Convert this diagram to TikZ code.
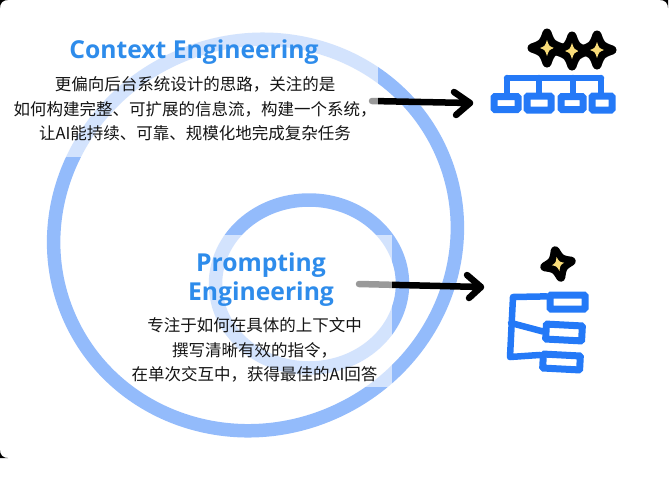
\documentclass[tikz,border=0pt]{standalone}
\usepackage{fontspec}
\usepackage{tikz}
\usepackage{xcolor}
\usetikzlibrary{shapes, positioning}
\newfontfamily\cjk{Noto Sans CJK SC}
\newfontfamily\titlefont{Open Sans}
\newcommand{\cjkcomma}{\char"FF0C\relax}
\definecolor{ringblue}{HTML}{93BBFB}
\definecolor{titleblue}{HTML}{2E8CEB}
\definecolor{orgblue}{HTML}{2479F7}
\definecolor{sparkyellow}{HTML}{F9DC79}
\tikzset{
    ring/.style={draw=ringblue, line width=13.5pt},
    veil/.style={rectangle, fill=white, fill opacity=.6, inner sep=0pt, anchor=north west},
    heading/.style={font=\titlefont\bfseries\fontsize{24.7}{29}\selectfont, text=titleblue, align=center, inner sep=0pt},
    body/.style={font=\cjk\fontsize{16.5}{24.5}\selectfont, text=black!92, align=center, inner sep=0pt},
    pointer/.style={line width=6.5pt, line cap=round, line join=round},
    orgbox/.style={rectangle, draw=orgblue, line width=7pt, rounded corners=1pt, inner sep=0pt},
    orgline/.style={draw=orgblue, line width=6.5pt, line cap=round},
    sparkle/.pic={
        \draw[black, fill=black, line width=9pt, line join=round] (0,-15) .. controls (4,-4) .. (15,0) .. controls (4,4) .. (0,15) .. controls (-4,4) .. (-15,0) .. controls (-4,-4) .. (0,-15) -- cycle;
        \fill[sparkyellow] (0,-8) .. controls (2,-2) .. (7,0) .. controls (2,2) .. (0,8) .. controls (-2,2) .. (-7,0) .. controls (-2,-2) .. (0,-8) -- cycle;
    }
}
\begin{document}
\begin{tikzpicture}[x=1pt, y=-1pt]
        \useasboundingbox (0,0) rectangle (672,483);

        \fill[black] (0,0) -- (8,0) .. controls (3,0) and (0,3) .. (0,8) -- cycle;
        \fill[black] (668,0) -- (660,0) .. controls (665,0) and (668,3) .. (668,8) -- cycle;
        \fill[black] (0,458) -- (8,458) .. controls (3,458) and (0,455) .. (0,450) -- cycle;

        \draw[ring, shift={(255.5,235)}, rotate=25] (0,0) ellipse [x radius=203.5, y radius=194];
        \draw[ring] (309,284) ellipse [x radius=93.5, y radius=84];

        \coordinate (ctxstart) at (372,101);
        \coordinate (ctxtip) at (470,103);
        \coordinate (ctxup) at (454,92);
        \coordinate (ctxdown) at (456,115);
        \coordinate (prmstart) at (359,284);
        \coordinate (prmtip) at (481,287);
        \coordinate (prmup) at (467,275);
        \coordinate (prmdown) at (469,298);

        \draw[pointer] (ctxstart) to (ctxtip)
            (ctxup) to (ctxtip)
            (ctxdown) to (ctxtip)
            (prmstart) to (prmtip)
            (prmup) to (prmtip)
            (prmdown) to (prmtip);

        \node[veil, minimum width=368pt, minimum height=127pt] (ctxveil) at (10,30) {};
        \node[veil, minimum width=257pt, minimum height=152pt] (prmveil) at (135,235) {};

        \node[heading] (ctxtitle) at (194,52) {Context Engineering};
        \node[body] (ctxtext) at (195,109) {更偏向后台系统设计的思路\cjkcomma 关注的是\\如何构建完整、可扩展的信息流\cjkcomma 构建一个系统\cjkcomma\\让AI能持续、可靠、规模化地完成复杂任务};
        \node[heading] (prmtitle) at (261,280) {Prompting\\Engineering};
        \node[body] (prmtext) at (254.5,350) {专注于如何在具体的上下文中\\撰写清晰有效的指令\cjkcomma\\在单次交互中\cjkcomma 获得最佳的AI回答};

        \pic at (547,48) {sparkle};
        \pic at (572,51) {sparkle};
        \pic at (597,50) {sparkle};
        \pic[rotate=12, scale=.9] at (558,264) {sparkle};

        \node[orgbox, minimum width=24pt, minimum height=13pt] (topa) at (506,103) {};
        \node[orgbox, minimum width=24pt, minimum height=14pt] (topb) at (539,103) {};
        \node[orgbox, minimum width=22pt, minimum height=13pt] (topc) at (572,103) {};
        \node[orgbox, minimum width=20pt, minimum height=14pt] (topd) at (602,103) {};
        \coordinate (bara) at (507,78);
        \coordinate (barb) at (539,78);
        \coordinate (barc) at (573,78);
        \coordinate (bard) at (601,78);

        \draw[orgline] (bara) to (bard)
            (bara) to (bara |- topa.north)
            (barb) to (barb |- topb.north)
            (barc) to (barc |- topc.north)
            (bard) to (bard |- topd.north);

        \node[orgbox, minimum width=35pt, minimum height=14pt] (lowa) at (567.5,302) {};
        \node[orgbox, minimum width=36pt, minimum height=15pt, rotate=-3] (lowb) at (564,332.5) {};
        \node[orgbox, minimum width=37pt, minimum height=14pt, rotate=-3] (lowc) at (561.5,362) {};
        \coordinate (stema) at (513,297);
        \coordinate (stemb) at (511,323);
        \coordinate (stemc) at (510,357);

        \draw[orgline] (stema) to (stemc)
            (stema) to (lowa.165)
            (stemb) to (lowb.west)
            (stemc) to (lowc.165);
    \end{tikzpicture}
\end{document}
